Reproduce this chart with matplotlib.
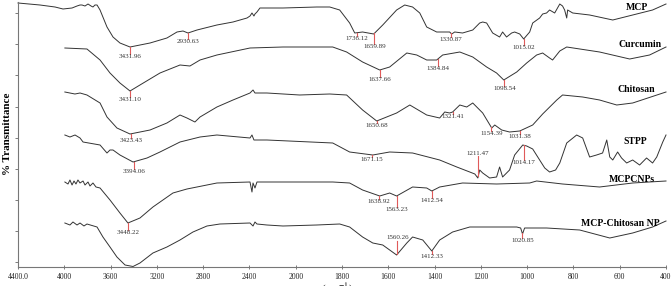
import numpy as np
import matplotlib
matplotlib.use('Agg')
import matplotlib.pyplot as plt

plt.rcParams['font.family'] = ['Liberation Serif', 'DejaVu Serif']
plt.rcParams['mathtext.fontset'] = 'stix'

# wavenumber (cm-1) and stacked transmittance (arbitrary offset units)
mcp_wn = [4400, 4210, 4080, 4011, 3933, 3890, 3864, 3847, 3821, 3795, 3769, 3752, 3735, 3717,
          3691, 3631, 3579, 3519, 3432, 3259, 3113, 3026, 2974, 2931, 2853, 2681, 2542, 2421,
          2395, 2378, 2361, 2352, 2335, 2309, 2110, 1909, 1853, 1810, 1767, 1745, 1711, 1663,
          1624, 1564, 1529, 1495, 1464, 1434, 1391, 1335, 1326, 1313, 1279, 1235, 1205, 1192,
          1175, 1149, 1119, 1106, 1089, 1067, 1054, 1032, 1015, 989, 976, 946, 933, 916, 903,
          881, 859, 847, 838, 829, 825, 803, 730, 630, 544, 458, 400]
mcp_t = [264, 262, 260, 258, 259, 261, 262, 262, 261, 263, 261, 260, 262, 262,
         257, 240, 230, 224, 220, 224, 229, 235, 236, 234, 237, 242, 245, 249,
         251, 254, 251, 253, 255, 259, 259, 260, 260, 257, 244, 234, 235, 233,
         242, 257, 262, 260, 254, 240, 235, 235, 233, 235, 234, 237, 244, 245,
         244, 234, 230, 235, 230, 234, 235, 233, 228, 235, 244, 249, 253, 254, 257,
         254, 263, 261, 257, 249, 257, 254, 252, 247, 252, 257, 263]

cur_wn = [3995, 3804, 3691, 3605, 3519, 3432, 3346, 3173, 3000, 2914, 2827, 2681, 2395, 2110,
          1840, 1780, 1711, 1637, 1594, 1520, 1477, 1434, 1391, 1365, 1291, 1235, 1175, 1132,
          1101, 1045, 1002, 959, 933, 903, 890, 859, 829, 687, 557, 471, 400]
cur_t = [219, 218, 207, 194, 184, 176, 182, 194, 202, 201, 207, 212, 219, 220,
         220, 215, 205, 197, 200, 214, 212, 207, 207, 212, 215, 210, 200, 194,
         187, 195, 204, 212, 214, 209, 207, 216, 220, 215, 208, 212, 220]

chi_wn = [3995, 3908, 3864, 3804, 3691, 3631, 3545, 3432, 3259, 3113, 3000, 2940, 2871, 2827,
          2681, 2542, 2395, 2378, 2369, 2352, 2249, 1983, 1853, 1780, 1711, 1650, 1564, 1507,
          1434, 1378, 1356, 1335, 1322, 1291, 1261, 1235, 1192, 1153, 1140, 1110, 1076, 1032,
          976, 933, 872, 847, 760, 687, 613, 544, 400]
chi_t = [175, 173, 174, 172, 164, 150, 139, 133, 137, 144, 152, 149, 145, 150,
         160, 167, 174, 176, 177, 174, 174, 172, 173, 172, 157, 146, 154, 162,
         152, 149, 155, 154, 155, 162, 160, 164, 154, 139, 142, 137, 135, 136,
         142, 153, 167, 172, 170, 167, 162, 164, 175]

stpp_wn = [3995, 3951, 3907, 3864, 3838, 3691, 3631, 3605, 3579, 3519, 3406, 3285, 3173, 3000,
           2827, 2681, 2395, 2378, 2361, 2249, 1840, 1767, 1667, 1594, 1495, 1378, 1304, 1248,
           1226, 1213, 1205, 1192, 1162, 1132, 1119, 1106, 1076, 1054, 1019, 1002, 976, 946,
           924, 903, 877, 859, 829, 786, 760, 730, 700, 674, 656, 643, 630, 609, 592, 570,
           544, 514, 484, 458, 440, 414, 400]
stpp_t = [132, 130, 132, 129, 125, 122, 114, 117, 117, 112, 105, 109, 115, 125,
          130, 132, 129, 132, 127, 127, 124, 115, 112, 115, 114, 107, 100, 95,
          93, 89, 97, 94, 89, 90, 100, 90, 97, 112, 122, 121, 118, 107,
          99, 95, 97, 104, 124, 132, 129, 110, 112, 114, 127, 110, 107, 115, 109, 104,
          107, 102, 109, 104, 110, 125, 132]

cnp_wn = [3995, 3968, 3951, 3933, 3916, 3899, 3882, 3864, 3838, 3821, 3795, 3778, 3752, 3726,
          3691, 3605, 3519, 3450, 3346, 3234, 3061, 2940, 2681, 2395, 2378, 2369, 2352, 2335,
          2249, 1840, 1767, 1711, 1637, 1594, 1564, 1495, 1434, 1412, 1378, 1279, 1132, 989,
          959, 847, 687, 544, 400]
cnp_t = [85, 83, 87, 82, 86, 83, 87, 84, 86, 82, 85, 81, 84, 80,
         79, 67, 54, 44, 49, 60, 74, 78, 84, 85, 75, 84, 79, 85,
         85, 85, 84, 77, 71, 74, 71, 80, 79, 76, 80, 84, 83, 84,
         86, 83, 80, 84, 86]

np_wn = [3995, 3951, 3925, 3890, 3864, 3830, 3804, 3717, 3666, 3605, 3545, 3475, 3406, 3346,
         3234, 3113, 3000, 2888, 2767, 2655, 2395, 2369, 2352, 2335, 2249, 2110, 1909, 1810,
         1767, 1711, 1667, 1624, 1594, 1564, 1520, 1495, 1451, 1412, 1378, 1322, 1248, 1045,
         1028, 1020, 1011, 916, 773, 643, 544, 458, 400]
np_t = [44, 42, 45, 42, 44, 41, 43, 40, 30, 20, 10, 2, 0.5, 4,
        14, 20, 27, 35, 41, 43, 44, 41, 45, 43, 42, 41, 42, 43,
        40, 30, 24, 22, 17, 12, 24, 30, 27, 16, 27, 35, 40, 40,
        39, 33, 39, 39, 37, 29, 34, 40, 46]

names = ['MCP', 'Curcumin', 'Chitosan', 'STPP', 'MCPCNPs', 'MCP-Chitosan NP']

# marked peaks for each spectrum
mcp_peaks = [3431.96, 2930.63, 1736.12, 1659.89, 1330.87, 1015.02]
cur_peaks = [3431.10, 1637.66, 1384.84, 1098.54]
chi_peaks = [3423.43, 1650.68, 1321.41, 1154.39, 1031.38]
stpp_peaks = [3394.06, 1671.15, 1211.47, 1014.17]
cnp_peaks = [3448.22, 1638.92, 1563.23, 1412.54]
np_peaks = [1560.26, 1412.33, 1020.85]

xticks = [4400, 4000, 3600, 3200, 2800, 2400, 2000, 1800, 1600, 1400, 1200, 1000, 800, 600, 400]
xtick_labels = ['4400.0'] + [str(t) for t in xticks[1:]]

spectra = [(mcp_wn, mcp_t, mcp_peaks), (cur_wn, cur_t, cur_peaks), (chi_wn, chi_t, chi_peaks),
           (stpp_wn, stpp_t, stpp_peaks), (cnp_wn, cnp_t, cnp_peaks), (np_wn, np_t, np_peaks)]

# label drop below the curve (negative = above), and name positions (px)
drops = [[10, 9, 6, 13, 7, 9], [9, 10, 10, 9], [7, 5, 5, 6, 6],
         [10, 5, -23, 17], [10, 6, 14, 10], [-16, 6, 7]]
name_xy = [(637, 7), (640, 45), (636, 89), (635, 142), (632, 179), (620, 223)]


# x axis: 2x expansion below 2000 cm-1
def fwd(w):
    w = np.asarray(w, dtype=float)
    return np.where(w >= 2000, w, 2 * w - 2000)


def inv(u):
    u = np.asarray(u, dtype=float)
    return np.where(u >= 2000, u, (u + 2000) / 2)


fig = plt.figure(figsize=(6.72, 2.86), dpi=100)
ax = fig.add_axes([18 / 672, 19 / 286, 648 / 672, 265 / 286])
ax.set_xscale('function', functions=(fwd, inv))
ax.set_xlim(4400, 400)
ax.set_ylim(0, 265)

for (wn, t, peaks), drop in zip(spectra, drops):
    ax.plot(wn, t, color='#333333', lw=0.7, clip_on=False)
    for p, d in zip(peaks, drop):
        yc = np.interp(p, wn[::-1], t[::-1])
        ylab = yc - d
        if d > 0:
            ax.plot([p, p], [yc, ylab + 2.5], color='#e05a5a', lw=0.8)
        else:
            ax.plot([p, p], [yc, ylab - 3], color='#e05a5a', lw=0.8)
        ax.text(p, ylab, f'{p:.2f}', fontsize=5, color='#333333',
                ha='center', va='center')

for name, (px, py) in zip(names, name_xy):
    fig.text(px / 672, 1 - py / 286, name, fontsize=7, fontweight='bold',
             ha='center', va='center')

ax.set_xticks(xticks)
ax.set_xticklabels(xtick_labels)
ax.xaxis.set_minor_locator(matplotlib.ticker.NullLocator())
ax.set_yticks([5, 36, 67, 98, 129, 160, 192, 223, 254])
ax.set_yticklabels([])
ax.tick_params(axis='x', direction='inout', length=3, width=0.6, colors='#666666',
               labelsize=5.5, labelcolor='#222222', pad=3)
ax.tick_params(axis='y', direction='out', length=2, width=0.6, colors='#666666')
for s in ['top', 'right']:
    ax.spines[s].set_visible(False)
for s in ['left', 'bottom']:
    ax.spines[s].set_color('#777777')
    ax.spines[s].set_linewidth(0.8)

fig.text(8 / 672, 1 - 134 / 286, '% Transmittance', rotation=90, fontsize=8,
         fontweight='bold', ha='center', va='center')
# axis title sits mostly below the bottom edge, as in the source image
fig.text(337 / 672, 1 - 282 / 286, r'(cm$^{-1}$)', fontsize=8, ha='center', va='top')

fig.savefig('out.png', dpi=100)
